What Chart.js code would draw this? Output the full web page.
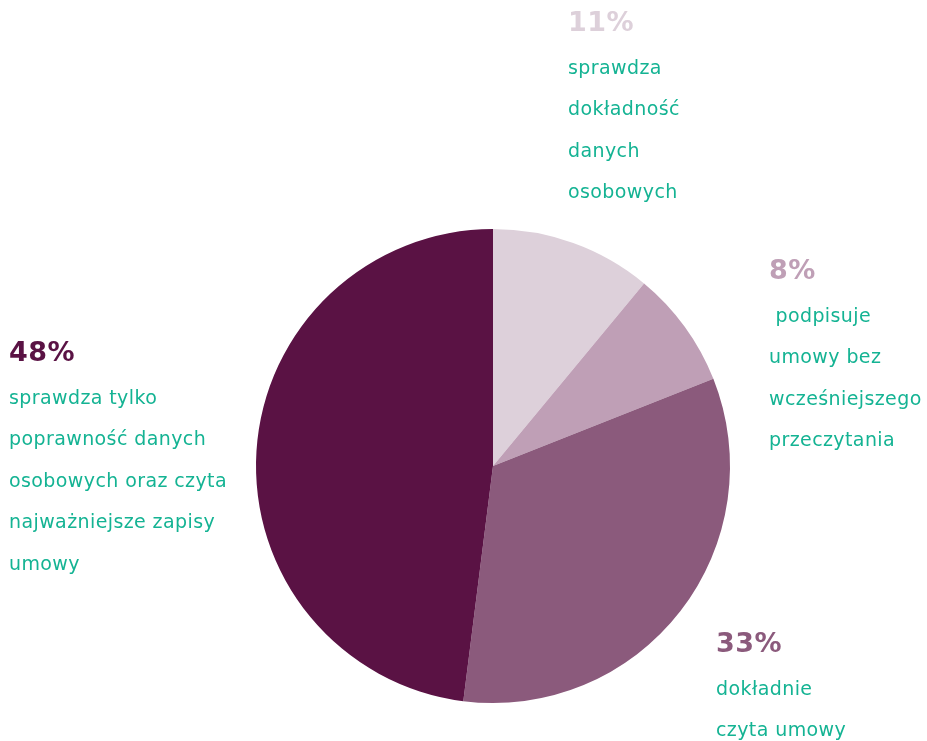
<!DOCTYPE html>
<html>
<head>
<meta charset="utf-8">
<script src="https://cdn.jsdelivr.net/npm/chart.js@4"></script>
<style>
  html, body { margin: 0; padding: 0; background: #fff; }
  #wrap { width: 927px; height: 741px; }
</style>
</head>
<body>
<div id="wrap"><canvas id="myChart"></canvas></div>
<script>
let labels = ['sprawdza dokładność danych osobowych', 'podpisuje umowy bez wcześniejszego przeczytania', 'dokładnie czyta umowy', 'sprawdza tylko poprawność danych osobowych oraz czyta najważniejsze zapisy umowy'];
let values = [11, 8, 33, 48];
let colorHex = ['#ddd0da', '#bf9fb6', '#8b5a7c', '#5a1244'];
let textLines = [
  ['sprawdza', 'dokładność', 'danych', 'osobowych'],
  [' podpisuje', 'umowy bez', 'wcześniejszego', 'przeczytania'],
  ['dokładnie', 'czyta umowy'],
  ['sprawdza tylko', 'poprawność danych', 'osobowych oraz czyta', 'najważniejsze zapisy', 'umowy']
];
// label anchor offsets from pie centre (left edge, centre of the % line)
let labelOffsets = [[75, -442], [276, -194], [223, 179], [-484, -112]];

const textColor = '#14b393';
const fontFamily = '"DejaVu Sans", sans-serif';

const sideLabels = {
  id: 'sideLabels',
  afterDraw(chart) {
    const ctx = chart.ctx;
    const arc = chart.getDatasetMeta(0).data[0];
    const cx = arc.x, cy = arc.y;
    ctx.save();
    ctx.textBaseline = 'middle';
    ctx.textAlign = 'left';
    values.forEach((v, i) => {
      const x = cx + labelOffsets[i][0];
      let y = cy + labelOffsets[i][1];
      ctx.fillStyle = colorHex[i];
      ctx.font = 'bold 27px ' + fontFamily;
      ctx.letterSpacing = '0.5px';
      ctx.fillText(v + '%', x, y);
      y += 45;
      ctx.fillStyle = textColor;
      ctx.font = '19px ' + fontFamily;
      ctx.letterSpacing = '0.4px';
      textLines[i].forEach(line => {
        ctx.fillText(line, x, y);
        y += 41.5;
      });
    });
    ctx.restore();
  }
};

let ctx = document.getElementById('myChart').getContext('2d');
let myChart = new Chart(ctx, {
  type: 'pie',
  data: {
    labels: labels,
    datasets: [{
      data: values,
      backgroundColor: colorHex,
      borderWidth: 0
    }]
  },
  options: {
    responsive: true,
    maintainAspectRatio: false,
    animation: false,
    layout: {
      padding: { left: 256, right: 197, top: 229, bottom: 38 }
    },
    plugins: {
      legend: { display: false },
      tooltip: { enabled: false }
    }
  },
  plugins: [sideLabels]
});
</script>
</body>
</html>
